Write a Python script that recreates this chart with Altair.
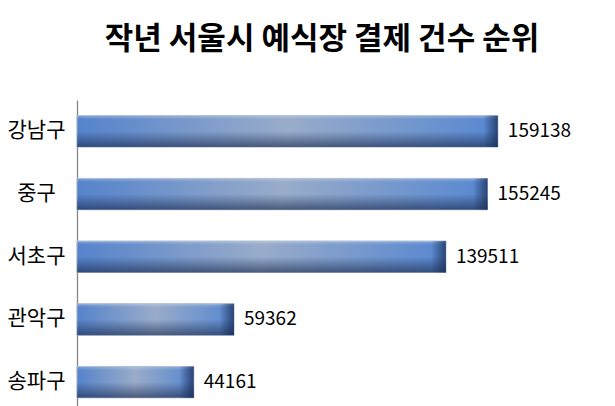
import altair as alt
import pandas as pd

districts = ["강남구", "중구", "서초구", "관악구", "송파구"]
counts = [159138, 155245, 139511, 59362, 44161]
chart_title = "작년 서울시 예식장 결제 건수 순위"

df = pd.DataFrame({"district": districts, "count": counts})

FONT = "Noto Sans CJK KR"

y_enc = alt.Y(
    "district:N",
    sort=districts,
    scale=alt.Scale(range=[0, 313.5], paddingInner=0.5, paddingOuter=0.25),
    axis=alt.Axis(
        title=None, ticks=False, grid=False,
        domainColor="#868686", domainWidth=1.3,
        labelFont=FONT, labelFontSize=21, labelColor="#000000",
        labelAlign="center", labelBaseline="middle", labelPadding=41,
    ),
)
x_enc = alt.X("count:Q", scale=alt.Scale(domain=[0, 180000], nice=False), axis=None)

base = alt.Chart(df)

bars = base.mark_bar(
    color=alt.Gradient(
        gradient="linear",
        stops=[
            alt.GradientStop(offset=0, color="#5583cb"),
            alt.GradientStop(offset=0.5, color="#99acca"),
            alt.GradientStop(offset=1, color="#5787d0"),
        ],
        x1=0, x2=1, y1=0, y2=0,
    ),
    stroke="#a3b5cf", strokeWidth=1,
).encode(y=y_enc, x=x_enc)

shade = base.mark_bar(
    color=alt.Gradient(
        gradient="linear",
        stops=[
            alt.GradientStop(offset=0, color="rgba(255,255,255,0.25)"),
            alt.GradientStop(offset=0.12, color="rgba(255,255,255,0)"),
            alt.GradientStop(offset=0.5, color="rgba(20,35,70,0)"),
            alt.GradientStop(offset=1, color="rgba(20,35,70,0.6)"),
        ],
        x1=0, x2=0, y1=0, y2=1,
    ),
).encode(y=y_enc, x=x_enc)

ends = base.transform_calculate(
    start="datum.count - 5500"
).mark_bar(
    color=alt.Gradient(
        gradient="linear",
        stops=[
            alt.GradientStop(offset=0, color="rgba(25,45,85,0)"),
            alt.GradientStop(offset=1, color="rgba(25,45,85,0.75)"),
        ],
        x1=0, x2=1, y1=0, y2=0,
    ),
).encode(y=y_enc, x=alt.X("start:Q", scale=alt.Scale(domain=[0, 180000], nice=False), axis=None), x2="count:Q")

labels = base.mark_text(
    align="left", baseline="middle", dx=10, font=FONT, fontSize=19, color="#000000"
).encode(y=y_enc, x=x_enc, text="count:Q")

chart = alt.layer(bars, shade, ends, labels).properties(
    width=476,
    height=306,
    title=alt.TitleParams(
        chart_title, font=FONT, fontSize=31, fontWeight="bold", color="#000000",
        anchor="middle", dx=7, offset=13, baseline="bottom",
    ),
    autosize=alt.AutoSizeParams(type="none"),
    padding={"left": 69, "top": 92, "right": 54, "bottom": 0},
).configure_view(stroke=None)

chart.save("out.html", embed_options={"renderer": "svg", "actions": False})
